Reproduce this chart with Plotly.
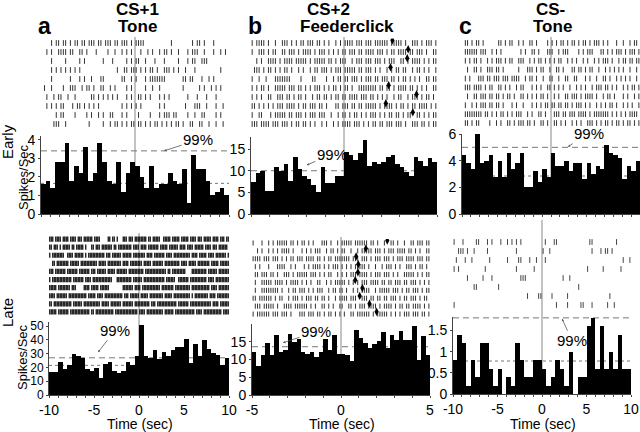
import plotly.graph_objects as go
import numpy as np

W, H = 640, 432

# ---------------- DATA ----------------
time_ranges = {"a": (-10, 10), "b": (-5, 5), "c": (-10, 10)}

a_early_hist = [1.6, 1.8, 1.4, 2.8, 2.8, 3.8, 1.8, 2.6, 2.2, 3.6, 1.8, 2.2, 3.8, 2.8, 1.8, 1.6, 2.8, 1.2, 2.2, 2.8,
                2.6, 2.0, 1.4, 2.6, 1.4, 1.6, 1.6, 2.2, 1.8, 1.6, 2.4, 0.6, 3.2, 2.4, 2.4, 1.8, 1.0, 1.2, 1.4, 1.0]
b_early_hist = [7.5, 9.5, 10, 5.3, 5.3, 10.8, 10, 11.6, 7.6, 13.2, 10.4, 8.8, 8.2, 6.8, 5.2, 10.8, 7.2, 7.2, 8.8, 8.8,
                14.4, 13.6, 12.4, 14, 17, 11.2, 12, 11.6, 12, 13.2, 13.6, 11.6, 10.8, 9.6, 8.8, 13.2, 12.2, 11, 13, 12]
c_early_hist = [4.4, 3.8, 3.4, 6.0, 3.8, 4.0, 4.4, 2.8, 4.0, 2.8, 4.6, 3.4, 3.8, 4.6, 2.0, 2.0, 3.2, 2.4, 3.4, 2.8,
                4.6, 3.6, 3.6, 4.0, 3.2, 3.8, 3.8, 2.6, 3.8, 3.0, 3.6, 3.4, 5.2, 4.6, 4.4, 4.2, 2.6, 3.6, 3.2, 4.0]
a_late_hist = [17, 17, 24, 19, 22, 29.5, 28.5, 27, 19, 17.5, 19.5, 12.5, 22.5, 24, 17.5, 16, 17.5, 24, 22, 28,
               51, 28, 27, 32.5, 26.5, 31, 28, 33, 34.5, 34.5, 41, 23.5, 37, 28, 40, 33.5, 30.5, 29, 22, 27]
b_late_hist = [12, 8.3, 11.2, 14.7, 11.2, 17, 12, 12.7, 17.3, 15, 15.8, 12, 11.6, 12, 10.8, 12, 15.8, 12.6, 17, 11.6,
               11.6, 11.2, 9.6, 18.2, 16, 14.7, 13.2, 14.4, 15.2, 17.8, 13.2, 16.8, 15.5, 18, 15.6, 15.6, 19.5, 10, 16.7, 11.2]
c_late_hist = [0.8, 1.4, 1.2, 0.2, 0.8, 0.4, 1.2, 1.2, 0.6, 0.2, 0.6, 0, 0.4, 0.2, 1.2, 0.8, 0.4, 0.4, 0.8, 0.8,
               0.6, 0.2, 0.4, 0.8, 0.6, 0.2, 1.0, 0, 0.4, 0.4, 1.6, 1.8, 0.6, 1.6, 0.6, 1.0, 0.6, 1.4, 0.6, 0.6]

# 99% confidence (dashed) and mean (dotted) levels
a_early_99, a_early_mean = 3.4, 1.65
b_early_99 = 10
c_early_99, c_early_mean = 5.0, 2.85
a_late_99, a_late_mean = 27, 21.5
b_late_99 = 13.6
c_late_99, c_late_mean = 1.8, 0.78

# rasters: one string per trial, '|' = spike in that time slot (spaces ignored)
a_early_raster = [
    "....|.||.| |.|.||.||. |||.||.||| .||.|||.|. ||||...... .....|.... ....|.||.| ...|......",
    "..|.|..||| |.||..||.| ...|....|. .|..|.|.|. ..|..|.|.. |.||.|..|. ..|.|||..| ...|..|.|.",
    "....|..... |.....|.|. ......|... |.....|.|. ||..|...|. ..|.....|. ..|.||..|| |.........",
    "....|.|.|. |.|.|.|... .......... ..|..||.|| |.|.|.||.| ..|||.|.|. .|...|.... ......|...",
    "....|..... ..|...|.|. .|...||... ....||..|. |...|.|||| |||....... ||.||...|. .|.|......",
    ".|..|....| ..|||..|.| |.|..||..| .|....|.|. ....|..|.. |......... |......|.| ..|.|.|...",
    "..|..|.||. .|..|..... .||.|.|.|. |.|...|.|. .||.|.|... |.|.|..... ..|...|... |...|.....",
    "..|.|.|.|| ...|.||.|. |.|.|..... ....|.|.|. |.|....... |.|....... .|...|||.. |...|..|..",
    "......|.|| ....|....| .|..|.|..| |...|.|... .|....|... |.|||.||.. ..|..|..|| ....|.|...",
    ".....|||.. |......... |.....|..| .||.|.|.|| .||.|.|.|| .|.|.|.||. |..||..||. .|..|..|..",
]
b_early_raster = [
    "|.||||.|.. |..|||.|.| .||.|||.|| .|.|..|.|. ||||.|||.| ||.||||||. |||||.|..| ||.|.|||.|",
    "|..|||.|.| |..||.|||. |.||||.|.| ||.|.|.|.| |.|||.||.| |||.|||.|. ||.||||.|| .|||.|..||",
    "..|.|..||| |.|.||||.| ||||.|.||| ||.||.|.|| |..|.|||.| ||.|||.|.| ||..||.|.| |||.|.|.||",
    ".|||.|.||. |.|.||.|.. |.|..|.||. |||.|.|||. |||||.||.| ||.|.|..|. |.||.||..| .||.|.|..|",
    "|..|..|... |||||||... .|....||.. ..|..|.||. ||.|||.|.| ||.||.|||. ||.|.||.|. |.|..||.||",
    "|.|.||.|.. |||||.|||. ||.|.|.||| .|.|.||.|. ||.|..|||| ||||.||.|| .|.||||.|| .|.|.|..||",
    "|.|.|..||. .|||.||.|. ||.|..|.|| .||.|.||.| |.||||.||| .||.|.|.|. .|.||..|.| ||.|.||.|.",
    "||.|.|.|.| .|||.||||. |.||.|||.| |.|...||.| ||.||.||.| ||||.|.||| |.|.||.|.| |.||||.|.|",
    "|..||...|. |||||.||.| ||.|.|||.| ||..|..|.| |.|.||.|.| .|||.|.|.| |.||.|.||. .||.|.|.||",
    "|||.||||.| ||.|||.|.| |.||.|.|.. |.|..|.|.| |||.|||.|. |.||.||.|| |.|||.|..| ||.||.|.||",
]
c_early_raster = [
    ".||.|.||.| ......||.| .||..|.|.. ||.|....|. |.|.||.|.| |.|.||.|.| ||.|.|...| ..|..|.||.",
    ".||||||.|| |..|.|.|.. ......|.|. .||.|...|| |..|.|||.. ..|.|.|||. ..||.|.|.| ||.|.|||.|",
    ".|.|.||.|. .|.|.|||.| .||..|||.. |.|.||.|.| .|.||..|.| .|..|.|..| .|.|||.|.. |.||.||.||",
    "..|..||.|. .|||.||.|. .....|...| ||.|.||..| ..||.|...| |.||.|.||. .|..|.|.|. |.|..|..|.",
    ".|.|...||| .||.|||.|| |.||||..|. ||.|..|..| |..|..||.. ||...|.|.. |..||.|..| .|.|.|..|.",
    ".|||.||||. |.||..||.| .|..|.||.. .|.|.|..|| .|.|.|..|. .|.|.|..|. |||.||.|.| ..|.|.||.|",
    "..|..||.|| |.||.||.|. ||.|..||.| .|.|.||.|. .|.|..||.| ||.|.||||. |..|.||.|. ..|.|..|.|",
    ".|..|.|.|| |.||.||.|. ..|.|..|.. .|.|.|.||. ||.||.||.| .|||.|.|.. |.|.|.||.| ..|.|.|..|",
    ".||||||||. ||.|.|.||. |.|.|||..| .|..||.|.. .|||.||.|| |.||||.|.| ||||||.|.| .|.|.||||.",
    ".||.|.||.. ..|..|.|.. ||.|.|||.| |.|..||.|. .||.|.|..| .|.|..|||. |.|.||.|.| |.|.||.|.|",
]
a_late_raster = [
    "|||.||||.| |||.||||.| ||.||||||. ||||.....| |.||.|...| ||.|||.||| |||||.||.| ||||..|||| |.|||||.|| |||.||||.| ||.|||||.| |||.|||.||",
    "||.|||.|.| ||||.||.|| |||.|...|| .|||.||||| ||.||.|||| |||||.|||| .||||.|||| |||.|||||. ||||||.||| |.||||.||| |||.||||.| ||.||||||.",
    "|.|||||||| ..||||.||| |||.|.|||| |||||||.|| |.||||||.| |||||.|||| ||||.||||. |||||||.|| ||.||||||| ||||.||||. |||||.|||| .|||||||.|",
    "..||.||||| |||.|||||| .||||||||| ||.|||||.| ||||||||.| |||.|||||| ||.|||||.| ||||||.||| |||||||.|| ||.|||||.| |||||||.|| |||.||||||",
    "|||.|||||| |.|||||||. |||||||.|| |.||||||.| ||||.||||| ||.||||||| |||.|||||| ||||||||.| |.|||||||| |....||||| |||||.|||| ||.|||||||",
    "|.|||||||| |||||.|||| |||.||||.| |||||||||| ||...||||| |||||.|||| ||.||||||| |||||||.|| ||||..|||| |||.|||||| |||||.|||| .|||||||||",
    "|||||.|||| ||||.|||.. ...||||.|| |||.|||||| .........| ||||||.||| |.|||||||| ||||.||||| |||.|||||| ||||.||||| |||||||.|| ||.|||||||",
    "||||.||||| ||.||||||| |||||.|||| |.||||.||| |||||||||. |||.|||||| .|||||.||| ||||||.||| ||.||||||| ||||.|.||| ||||||.||| |.||||||||",
    "||.||||||| |||||.|||| ||.||||||| ||||.||||| .|||||||.| ||||||.||| |||||||.|| |.|||||||| |||||.|||| |||.|||||| ||||||||.| |||.||||||",
    "|||||.|||| |||.|||||| |||||||.|| .||||||||| |||.|||||| |||||||||. ||||.||||| ||||||.||| |||.|||||| |||||||.|| ||.||||||| |||||.||||",
]
b_late_raster = [
    "|...|..|.| .|||||.||. |.||.|.|.. .|||.|..|. |||||.|||| ||.||.|..| ..||.|..|. .||.|||.||",
    "..|.|..|.| .|.||||.|. ..|.|.|.|| |..|.||.|. ||..|..|.| ||||.|||.| .|||.||||. ||.|.|..||",
    "||||.|||.| ||.|.|.||. |||.||||.| |.|.||.||| ||||.|||.| ||.|.|||.| ||.|.|||.| |||.|||.||",
    ".|.|...|.. .||||..|.| ...|.|.||| |.|.|.|||. |.|.|.|||| |.|..|..|. |||.|.|..| ||.|.||.|.",
    ".||.|||.|| .|..|||.|. |||||.|||. |.|.||..|. |.|.|||.|| ||.|.|||.| ||.|.|..|| |||.|.|.||",
    ".|..|||||. ||||.|.||| |.|.|.|..| |..|.|.||| ||.|.|.|.| ||.||||.|| .||.|||.|| .|||.|.|.|",
    ".|..|||||| ||.|..|.|| .|||.|.|.| ||..|.||.| |.|..|.|.| |||..|.||| ||.|||.|.| |.|||.|.||",
    "||.||||||. |.||..|.|| |.|.|||.|| .||.|..|.| |||.|||..| ||.||.||.| |.|||.|.|| .|||.|.||.",
    ".|||.||||| .|..||||.| |||||.|.|. .||.|.|..| |..||.|.|| |.||||.|.| |||.|.||.| |.||||.|.|",
    "|.||||||.| ||.|||.|.. .|||.|||.| |.|.||.|.| .|..||.||| |||.|.|||| |.|.|.|.|| |.|||.||.|",
]
c_late_raster = [
    "|...|..... ||...|.|.. .|..|.|.|. |......... .|...||... .......... .||....... ...|......",
    "..|||.|..| .....|.... ........|. .......... |..|...... .......... ..|...|.|| .|........",
    ".|...|..|. ......|... ....|....| |...|..|.. .|........ .......... .......... ......|..|",
    "|.|....... ....|..... ........|. ......|... .......... .......... |......|.. .....|....",
    "......|... ...|...|.. .......... |||....... .........| ..|....... .......... ..........",
    ".........| |......... |......... .......... .......... ......|... .......... ..........",
    ".......... .......... .......... ...|....|| ....|..... .|........ .......... |.........",
    "|......... .......... .......... .......... ......|... .|.....||. ..|......| ..|.......",
]

# feeder-click markers (diamonds) in the CS+2 rasters: (trial index, time)
b_early_marks_trial = [0, 1, 2, 3, 5, 6, 7, 8]
b_early_marks_time = [2.6, 3.45, 3.4, 2.5, 2.4, 3.9, 2.25, 3.7]
b_late_marks_trial = [0, 1, 2, 3, 4, 5, 6, 7, 8, 9]
b_late_marks_time = [2.6, 1.4, 0.85, 0.97, 0.95, 0.8, 1.2, 1.05, 1.6, 2.0]

col_titles = [("CS+1", "Tone"), ("CS+2", "Feederclick"), ("CS-", "Tone")]
panel_letters = ["a", "b", "c"]
row_labels = ["Early", "Late"]
y_label = "Spikes/Sec"
x_label = "Time (sec)"
pct_label = "99%"

# ---------------- HELPERS ----------------
FONT = "Liberation Sans Narrow, Arial Narrow, Arial, Liberation Sans, sans-serif"
BOLD = "Liberation Sans, Arial, sans-serif"


def xdom(p0, p1):
    return [p0 / W, p1 / W]


def ydom(top, bottom):
    return [1 - bottom / H, 1 - top / H]


def px(x):
    return x / W


def py(y):
    return 1 - y / H


def parse_raster(rows, t0, t1):
    xs, ys = [], []
    for r, s in enumerate(rows):
        s = s.replace(" ", "")
        n = len(s)
        step = (t1 - t0) / n
        for i, ch in enumerate(s):
            if ch == "|":
                xs.append(t0 + (i + 0.5) * step)
                ys.append(r)
    return xs, ys


def text(t, x, y, size, family=FONT, angle=0):
    return dict(text=t, xref="paper", yref="paper", x=px(x), y=py(y), xanchor="center", yanchor="middle",
                showarrow=False, textangle=angle, font=dict(size=size, family=family, color="black"))


fig = go.Figure()
layout = dict(width=W, height=H, margin=dict(l=0, r=0, t=0, b=0, pad=0, autoexpand=False),
              paper_bgcolor="white", plot_bgcolor="rgba(0,0,0,0)", hovermode=False,
              showlegend=False, bargap=0, font=dict(family=FONT, color="black"))
shapes, annotations = [], []

panels = [
    dict(key="a", hist=a_early_hist, raster=a_early_raster, xp=(41, 229), hy=(136, 214), yr=[0, 4.2],
         yt=[0, 1, 2, 3, 4], ry=(38.5, 128.5), late=False, p99=a_early_99, mean=a_early_mean, ztop=37,
         lab=dict(x=3.1, y=3.4, ax=34, ay=-11), tc="#333", tw=1, yfs=14),
    dict(key="b", hist=b_early_hist, raster=b_early_raster, xp=(251, 437), hy=(137, 214), yr=[0, 17.8],
         yt=[0, 5, 10, 15], ry=(38.5, 128.5), late=False, p99=b_early_99, mean=None, ztop=37,
         lab=dict(x=-2.0, y=11.3, ax=25, ay=-11), tc="#333", tw=1, yfs=14),
    dict(key="c", hist=c_early_hist, raster=c_early_raster, xp=(462, 640), hy=(134, 214), yr=[0, 6],
         yt=[0, 2, 4, 6], ry=(38.5, 127.5), late=False, p99=c_early_99, mean=c_early_mean, ztop=37,
         lab=dict(x=1.9, y=5.05, ax=21, ay=-13), tc="#333", tw=1, yfs=14),
    dict(key="a", hist=a_late_hist, raster=a_late_raster, xp=(49, 229), hy=(322, 395), yr=[0, 53],
         yt=[0, 10, 20, 30, 40, 50], ry=(235, 316), late=True, p99=a_late_99, mean=a_late_mean, ztop=233,
         lab=dict(x=-4.55, y=31, ax=17, ay=-22), tc="#111", tw=1.3, yfs=12),
    dict(key="b", hist=b_late_hist, raster=b_late_raster, xp=(252, 430), hy=(324, 395), yr=[0, 20],
         yt=[0, 5, 10, 15], ry=(239, 318), late=True, p99=b_late_99, mean=None, ztop=237,
         lab=dict(x=-3.26, y=14.7, ax=33, ay=-11), tc="#333", tw=1, yfs=14),
    dict(key="c", hist=c_late_hist, raster=c_late_raster, xp=(453, 631), hy=(317, 394), yr=[0, 1.82],
         yt=[0, 0.5, 1, 1.5], ry=(237.5, 309.5), late=True, p99=c_late_99, mean=c_late_mean, ztop=220,
         lab=dict(x=2.25, y=1.78, ax=10, ay=22), tc="#444", tw=1, yfs=14),
]

for k, p in enumerate(panels):
    hi = k + 1
    ri = k + 7
    hx, hy_ = f"x{hi}", f"y{hi}"
    rx, ry_ = f"x{ri}", f"y{ri}"
    t0, t1 = time_ranges[p["key"]]
    vals = p["hist"]
    n = len(vals)
    bw = (t1 - t0) / n
    centers = t0 + bw * (np.arange(n) + 0.5)
    fig.add_trace(go.Bar(x=centers, y=vals, width=[bw] * n, marker=dict(color="black", line=dict(width=0)),
                         xaxis=hx, yaxis=hy_, hoverinfo="skip"))

    tv = list(range(t0, t1 + 1))
    if p["late"]:
        tt = [str(v) if v % 5 == 0 else "" for v in tv]
    else:
        tt = ["" for v in tv]
    layout[f"xaxis{hi}"] = dict(domain=xdom(*p["xp"]), range=[t0, t1], anchor=hy_, showline=True,
                                linecolor="#444", linewidth=1, ticks="outside", ticklen=2, tickcolor="#444",
                                tickvals=tv, ticktext=tt, showticklabels=p["late"], showgrid=False,
                                zeroline=False, automargin=False, tickfont=dict(size=14, family=FONT))
    layout[f"yaxis{hi}"] = dict(domain=ydom(*p["hy"]), range=p["yr"], anchor=hx, showline=True,
                                linecolor="#444", linewidth=1, ticks="outside", ticklen=2, tickcolor="#444",
                                tickvals=p["yt"], showgrid=False, zeroline=False, automargin=False,
                                tickfont=dict(size=p["yfs"], family=FONT))

    # raster
    xs, ys = parse_raster(p["raster"], t0, t1)
    nrows = len(p["raster"])
    rowpx = (p["ry"][1] - p["ry"][0]) / nrows
    fig.add_trace(go.Scatter(x=xs, y=ys, mode="markers", xaxis=rx, yaxis=ry_, hoverinfo="skip",
                             marker=dict(symbol="line-ns", size=rowpx * 0.64 / 1.4,
                                         line=dict(width=p["tw"], color=p["tc"]))))
    layout[f"xaxis{ri}"] = dict(domain=xdom(*p["xp"]), range=[t0, t1], visible=False, anchor=ry_)
    layout[f"yaxis{ri}"] = dict(domain=ydom(*p["ry"]), range=[nrows - 0.5, -0.5], visible=False, anchor=rx)

    # reference lines (below bars)
    shapes.append(dict(type="line", xref=hx, yref=hy_, x0=t0, x1=t1, y0=p["p99"], y1=p["p99"],
                       line=dict(color="#777", width=1, dash="6px,4px"), layer="below"))
    if p["mean"] is not None:
        shapes.append(dict(type="line", xref=hx, yref=hy_, x0=t0, x1=t1, y0=p["mean"], y1=p["mean"],
                           line=dict(color="#777", width=1, dash="dot"), layer="below"))
    shapes.append(dict(type="line", xref=hx, yref="paper", x0=0, x1=0, y0=py(p["hy"][1]), y1=py(p["ztop"]),
                       line=dict(color="#888", width=1), layer="below"))

    lab = p["lab"]
    annotations.append(dict(text=pct_label, xref=hx, yref=hy_, x=lab["x"], y=lab["y"], ax=lab["ax"],
                            ay=lab["ay"], showarrow=True, arrowhead=2, arrowsize=0.6, arrowwidth=0.8,
                            arrowcolor="#555", font=dict(size=15, family=FONT, color="black")))
    if p["late"]:
        cx = (p["xp"][0] + p["xp"][1]) / 2
        annotations.append(text(x_label, cx + 1, 424, 14))

# feeder click diamonds
fig.add_trace(go.Scatter(x=b_early_marks_time, y=[t - 0.3 for t in b_early_marks_trial], mode="markers",
                         xaxis="x8", yaxis="y8", hoverinfo="skip",
                         marker=dict(symbol="diamond-tall", size=6, color="black")))
fig.add_trace(go.Scatter(x=b_late_marks_time, y=[t - 0.3 for t in b_late_marks_trial], mode="markers",
                         xaxis="x11", yaxis="y11", hoverinfo="skip",
                         marker=dict(symbol="diamond-tall", size=6, color="black")))

# titles
for j, (l1, l2) in enumerate(col_titles):
    annotations.append(text(f"<b>{l1}</b>", [137, 328, 550][j], 10, 17, FONT))
    annotations.append(text(f"<b>{l2}</b>", [137, 347, 552][j], 26, 17, FONT))
for j, letter in enumerate(panel_letters):
    annotations.append(text(f"<b>{letter}</b>", [44, 255, 465][j], 26, 23, BOLD))

for lab, yy in zip(row_labels, [142, 313]):
    annotations.append(text(lab, 7, yy, 15, FONT, -90))
for yy, xx in zip([177, 357], [23, 22]):
    annotations.append(text(y_label, xx, yy, 13, FONT, -90))

layout["shapes"] = shapes
layout["annotations"] = annotations
fig.update_layout(**layout)
fig.write_html("out.html", config={"staticPlot": True, "displayModeBar": False},
               post_script="document.body.style.margin='0';document.body.style.padding='0';"
                           "document.body.style.overflow='hidden';")
